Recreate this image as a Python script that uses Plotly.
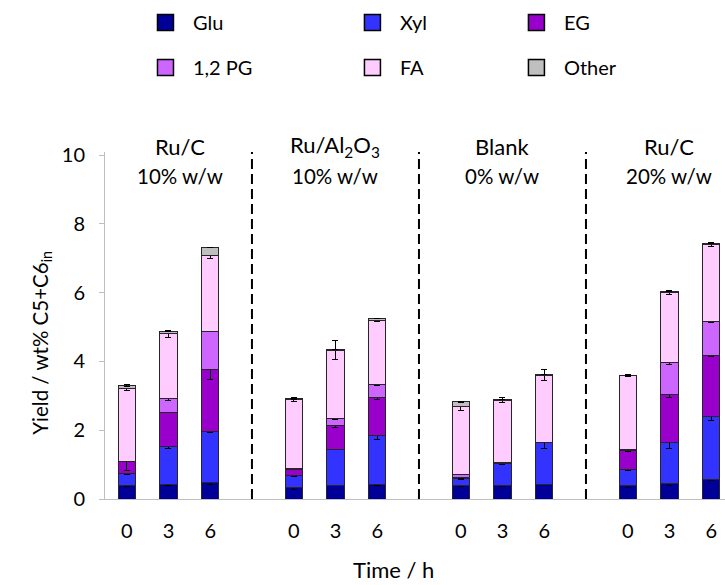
import plotly.graph_objects as go

# ---------------- data ----------------
group_top = ["Ru/C", "Ru/Al<sub>2</sub>O<sub>3</sub>", "Blank", "Ru/C"]
group_bottom = ["10% w/w", "10% w/w", "0% w/w", "20% w/w"]
times = ["0", "3", "6"]

# slot positions (one empty slot between catalyst groups)
positions = [0, 1, 2, 4, 5, 6, 8, 9, 10, 12, 13, 14]
tick_labels = times * 4
separators = [3, 7, 11]
group_label_x = [1.27, 5, 9, 13]

series_names = ["Glu", "Xyl", "EG", "1,2 PG", "FA", "Other"]
colors = ["#000099", "#3333FF", "#9900CC", "#CC66FF", "#FFCCFF", "#BFBFBF"]

glu = [0.38, 0.41, 0.47, 0.34, 0.40, 0.43, 0.38, 0.38, 0.43, 0.40, 0.44, 0.57]
xyl = [0.37, 1.11, 1.50, 0.34, 1.04, 1.43, 0.22, 0.65, 1.21, 0.47, 1.21, 1.82]
eg = [0.33, 1.00, 1.81, 0.18, 0.69, 1.09, 0.02, 0.01, 0.00, 0.55, 1.39, 1.78]
pg = [0.00, 0.39, 1.09, 0.03, 0.20, 0.39, 0.10, 0.01, 0.00, 0.02, 0.92, 1.00]
fa = [2.14, 1.89, 2.21, 2.00, 2.00, 1.86, 1.98, 1.82, 1.96, 2.14, 2.05, 2.23]
other = [0.08, 0.07, 0.23, 0.02, 0.03, 0.05, 0.13, 0.02, 0.03, 0.02, 0.03, 0.04]

glu_err = [0.03, 0.02, 0.06, 0.05, 0.02, 0.04, 0.03, 0.02, 0.02, 0.06, 0.05, 0.02]
xyl_err = [0.03, 0.04, 0.05, 0.03, 0.01, 0.12, 0.03, 0.03, 0.18, 0.05, 0.19, 0.12]
eg_err = [0.24, 0.01, 0.30, 0.01, 0.05, 0.05, 0.01, 0.00, 0.00, 0.03, 0.10, 0.03]
pg_err = [0.00, 0.05, 0.01, 0.00, 0.02, 0.03, 0.01, 0.00, 0.00, 0.00, 0.06, 0.05]
fa_err = [0.07, 0.10, 0.09, 0.05, 0.28, 0.04, 0.13, 0.07, 0.16, 0.03, 0.05, 0.06]
other_err = [0.02, 0.01, 0.01, 0.01, 0.00, 0.01, 0.01, 0.00, 0.00, 0.00, 0.00, 0.00]

values = [glu, xyl, eg, pg, fa, other]
errors = [glu_err, xyl_err, eg_err, pg_err, fa_err, other_err]

FONT = "Lato"

# legend placement (one legend per entry: 3 columns x 2 rows)
legend_ids = ["legend", "legend2", "legend3", "legend4", "legend5", "legend6"]
legend_x = [0.0532, 0.387, 0.6515, 0.0532, 0.387, 0.6515]
legend_y = [1.373, 1.373, 1.373, 1.2435, 1.2435, 1.2435]

fig = go.Figure()
for name, col, v, e in zip(series_names, colors, values, errors):
    fig.add_trace(go.Bar(
        name=name, x=positions, y=v, width=0.41,
        marker=dict(color=col, line=dict(color="#262626", width=1)),
        error_y=dict(type="data", array=e, visible=True, color="black",
                     thickness=1, width=3),
        showlegend=False, legendgroup=name,
    ))
# legend entries (square swatches like the reference)
for name, col, lg in zip(series_names, colors, legend_ids):
    fig.add_trace(go.Scatter(
        name=name, x=[None], y=[None], mode="markers",
        marker=dict(symbol="square", size=16, color=col,
                    line=dict(color="black", width=1.5)),
        legend=lg, legendgroup=name, hoverinfo="skip",
    ))

shapes = []
for s in separators:
    shapes.append(dict(type="line", xref="x", yref="y", x0=s, x1=s, y0=0, y1=10.09,
                       line=dict(color="black", width=2, dash="10px,5px")))

annotations = []
for gx, top, bot in zip(group_label_x, group_top, group_bottom):
    annotations.append(dict(x=gx, xref="x", y=1.017, yref="paper", text=top,
                            showarrow=False, yanchor="middle",
                            font=dict(family=FONT, size=22, color="black")))
    annotations.append(dict(x=gx, xref="x", y=0.93, yref="paper", text=bot,
                            showarrow=False, yanchor="middle",
                            font=dict(family=FONT, size=20.5, color="black")))
annotations.append(dict(x=0.466, xref="paper", y=-0.2465, yref="paper", text="Time / h",
                        showarrow=False, yanchor="bottom",
                        font=dict(family=FONT, size=22, color="black")))
annotations.append(dict(x=-0.127, xref="paper", y=0.4496, yref="paper",
                        text="Yield / wt% C5+C6<sub>in</sub>", textangle=-90,
                        showarrow=False, font=dict(family=FONT, size=20.5, color="black")))

layout_legends = {}
for lg, lx, ly in zip(legend_ids, legend_x, legend_y):
    layout_legends[lg] = dict(orientation="v", x=lx, y=ly, xanchor="left", yanchor="middle",
                              itemwidth=45, font=dict(family=FONT, size=20),
                              bgcolor="rgba(0,0,0,0)")

fig.update_layout(
    width=725, height=585,
    margin=dict(l=105, r=0, t=152, b=86, autoexpand=False),
    barmode="stack",
    plot_bgcolor="white", paper_bgcolor="white",
    font=dict(family=FONT, size=18, color="black"),
    shapes=shapes, annotations=annotations,
    xaxis=dict(range=[-0.52, 14.33], tickvals=positions, ticktext=tick_labels,
               showline=True, linecolor="#BFBFBF", linewidth=1, ticks="",
               showgrid=False, zeroline=False, ticklabelstandoff=14,
               tickfont=dict(family=FONT, size=20)),
    yaxis=dict(range=[0, 10.09], tickvals=[0, 2, 4, 6, 8, 10],
               showline=True, linecolor="#BFBFBF", linewidth=1,
               ticks="outside", ticklen=5, tickcolor="#BFBFBF",
               showgrid=False, zeroline=False, ticklabelstandoff=10,
               tickfont=dict(family=FONT, size=20)),
    **layout_legends,
)

fig.write_html("out.html")
